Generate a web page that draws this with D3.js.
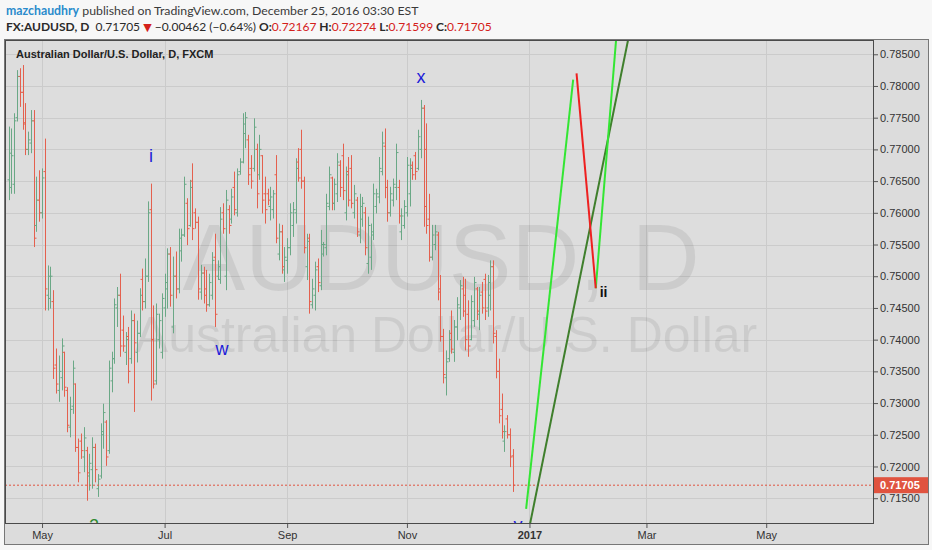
<!DOCTYPE html>
<html><head><meta charset="utf-8">
<script src="https://cdn.jsdelivr.net/npm/d3@7"></script>
<style>body{margin:0;background:#f7f7f7;} svg{display:block}</style>
</head><body><svg id="c" width="932" height="550"></svg>
<script>
// ---- data ----
const firstBar = -12; // trading-day index of first bar (0 = 2 May 2016)
const opens = [
.7652,.7640,.7645,.7750,.7815,.7790,.7740,.7700,.7710,.7745,
.7580,.7620,.7600,.7665,.7470,.7465,.7460,.7360,.7320,.7340,
.7380,.7320,.7262,.7295,.7330,.7230,.7240,.7215,.7225,.7185,
.7195,.7230,.7165,.7185,.7250,.7270,.7225,.7335,.7370,.7450,
.7470,.7415,.7380,.7405,.7370,.7430,.7380,.7410,.7495,.7460,
.7500,.7605,.7400,.7335,.7400,.7380,.7450,.7480,.7535,.7420,
.7500,.7480,.7540,.7565,.7615,.7580,.7650,.7600,.7585,.7475,
.7505,.7480,.7455,.7470,.7530,.7500,.7495,.7600,.7500,.7605,
.7590,.7640,.7600,.7665,.7680,.7725,.7715,.7670,.7670,.7700,
.7660,.7690,.7630,.7630,.7610,.7605,.7660,.7535,.7570,.7510,
.7525,.7545,.7580,.7600,.7680,.7700,.7650,.7515,.7560,.7455,
.7470,.7515,.7485,.7535,.7545,.7610,.7655,.7615,.7630,.7675,
.7690,.7600,.7665,.7670,.7600,.7620,.7565,.7590,.7600,.7520,
.7530,.7565,.7610,.7625,.7665,.7705,.7640,.7600,.7620,.7640,
.7640,.7570,.7580,.7600,.7630,.7675,.7690,.7670,.7700,.7765,
.7700,.7590,.7530,.7550,.7565,.7480,.7405,.7340,.7370,.7410,
.7380,.7420,.7450,.7480,.7470,.7440,.7400,.7430,.7480,.7440,
.7475,.7495,.7450,.7470,.7515,.7405,.7350,.7290,.7240,.7275,
.7250,.72167];
const highs = [
.7736,.7733,.7757,.7825,.7828,.7833,.7773,.7728,.7762,.7762,
.7657,.7667,.7670,.7717,.7517,.7515,.7478,.7386,.7375,.7402,
.7381,.7325,.7310,.7367,.7331,.7244,.7252,.7262,.7231,.7220,
.7246,.7236,.7188,.7268,.7299,.7273,.7367,.7381,.7465,.7483,
.7504,.7438,.7412,.7420,.7446,.7441,.7430,.7481,.7512,.7528,
.7618,.7646,.7454,.7457,.7441,.7473,.7504,.7544,.7546,.7531,
.7539,.7575,.7575,.7657,.7623,.7652,.7678,.7607,.7594,.7518,
.7515,.7510,.7504,.7538,.7567,.7525,.7609,.7615,.7636,.7612,
.7638,.7665,.7670,.7686,.7757,.7759,.7723,.7691,.7749,.7709,
.7723,.7691,.7657,.7638,.7641,.7636,.7691,.7583,.7581,.7546,
.7560,.7615,.7617,.7686,.7702,.7731,.7657,.7567,.7567,.7496,
.7523,.7528,.7573,.7554,.7630,.7673,.7657,.7654,.7694,.7683,
.7709,.7673,.7688,.7691,.7644,.7625,.7630,.7625,.7609,.7594,
.7583,.7646,.7638,.7688,.7728,.7733,.7652,.7641,.7654,.7709,
.7652,.7607,.7620,.7688,.7686,.7681,.7696,.7731,.7778,.7770,
.7741,.7630,.7581,.7581,.7570,.7502,.7417,.7383,.7415,.7446,
.7431,.7467,.7494,.7499,.7496,.7462,.7470,.7499,.7483,.7483,
.7491,.7504,.7502,.7525,.7525,.7415,.7370,.7315,.7265,.7281,
.7260,.72274];
const lows = [
.7620,.7630,.7630,.7744,.7767,.7731,.7691,.7691,.7694,.7546,
.7570,.7586,.7591,.7446,.7446,.7449,.7338,.7315,.7302,.7320,
.7310,.7254,.7246,.7283,.7223,.7175,.7212,.7191,.7146,.7162,
.7165,.7175,.7152,.7181,.7228,.7201,.7220,.7317,.7362,.7420,
.7373,.7381,.7360,.7331,.7362,.7286,.7364,.7404,.7446,.7449,
.7491,.7304,.7323,.7329,.7386,.7370,.7436,.7449,.7452,.7410,
.7465,.7473,.7523,.7562,.7549,.7578,.7557,.7575,.7463,.7463,
.7457,.7444,.7452,.7463,.7420,.7494,.7488,.7567,.7478,.7567,
.7583,.7596,.7594,.7660,.7678,.7702,.7644,.7638,.7665,.7607,
.7652,.7599,.7583,.7612,.7588,.7591,.7552,.7525,.7504,.7491,
.7504,.7533,.7562,.7583,.7649,.7638,.7536,.7494,.7441,.7449,
.7446,.7475,.7478,.7531,.7533,.7604,.7604,.7604,.7617,.7625,
.7620,.7588,.7610,.7607,.7591,.7562,.7552,.7578,.7533,.7504,
.7510,.7557,.7599,.7615,.7659,.7623,.7586,.7594,.7610,.7620,
.7583,.7557,.7575,.7594,.7610,.7652,.7652,.7667,.7686,.7578,
.7567,.7523,.7525,.7541,.7462,.7397,.7331,.7312,.7365,.7378,
.7365,.7399,.7431,.7436,.7383,.7373,.7399,.7420,.7431,.7415,
.7441,.7431,.7436,.7446,.7394,.7339,.7268,.7244,.7223,.7244,
.7199,.71599];
const closes = [
.7694,.7690,.7745,.7815,.7790,.7742,.7700,.7715,.7745,.7560,
.7620,.7600,.7655,.7480,.7500,.7500,.7355,.7330,.7350,.7390,
.7325,.7265,.7290,.7355,.7230,.7190,.7225,.7245,.7190,.7205,
.7230,.7195,.7180,.7255,.7285,.7215,.7355,.7370,.7455,.7470,
.7390,.7390,.7400,.7350,.7430,.7395,.7410,.7470,.7460,.7500,
.7600,.7400,.7330,.7440,.7430,.7465,.7490,.7535,.7470,.7500,
.7480,.7560,.7565,.7645,.7575,.7640,.7575,.7585,.7480,.7505,
.7470,.7455,.7490,.7525,.7440,.7515,.7590,.7575,.7620,.7580,
.7625,.7605,.7660,.7680,.7740,.7750,.7660,.7650,.7735,.7630,
.7700,.7620,.7605,.7620,.7625,.7630,.7560,.7570,.7515,.7530,
.7545,.7600,.7605,.7670,.7655,.7650,.7545,.7555,.7460,.7480,
.7510,.7490,.7550,.7550,.7615,.7660,.7615,.7645,.7680,.7640,
.7635,.7660,.7620,.7615,.7630,.7570,.7610,.7615,.7545,.7580,
.7570,.7630,.7630,.7670,.7710,.7640,.7600,.7630,.7645,.7695,
.7595,.7595,.7610,.7675,.7670,.7660,.7665,.7720,.7765,.7610,
.7580,.7530,.7565,.7570,.7475,.7405,.7345,.7365,.7400,.7385,
.7420,.7455,.7485,.7445,.7400,.7390,.7460,.7490,.7445,.7470,
.7450,.7445,.7490,.7515,.7410,.7350,.7280,.7255,.7255,.7250,
.7215,.71705];

const tickBars   = [0, 44, 88, 131, 175, 217, 260];
const tickLabels = ["May", "Jul", "Sep", "Nov", "2017", "Mar", "May"];
const priceTicks = [0.715,0.720,0.725,0.730,0.735,0.740,0.745,0.750,0.755,0.760,0.765,0.770,0.775,0.780,0.785];
const lastPrice = 0.71705;

// drawn projections [barIndex, price]
const greenLeg1 = [[173.8, 0.7133], [190.7, 0.7810]];
const redLeg    = [[191.9, 0.7820], [198.8, 0.7481]];
const greenLeg2 = [[198.8, 0.7481], [206.7, 0.7905]];
const trendLine = [[175.0, 0.7105], [211.9, 0.7905]];

const waveText  = ["i", "w", "x", "y", "2", "ii"];
const waveBar   = [39.1, 64.6, 136.1, 170.9, 18.7, 201.6];
const wavePrice = [0.7680, 0.7376, 0.7805, 0.7098, 0.7096, 0.7467];
const waveColor = ["#1c1cd8", "#1c1cd8", "#1c1cd8", "#1c1cd8", "#2f8a2f", "#111"];

// ---- layout ----
const svg = d3.select("#c");
const L = 5, R = 874, T = 40, B = 524;
const x = d3.scaleLinear().domain([-13.3, 298.7]).range([L, R]);
const y = d3.scaleLinear().domain([0.71093, 0.78725]).range([B, T]);

// header
const h1 = svg.append("text").attr("x", 6).attr("y", 15)
  .style("font-family", "Lato, 'Open Sans', sans-serif").style("font-size", "12.3px").attr("fill", "#3a3a3a");
h1.append("tspan").attr("fill", "#2a8bcc").attr("font-weight", "bold").text("mazchaudhry");
h1.append("tspan").text(" published on TradingView.com, December 25, 2016 03:30 EST");

const h2 = svg.append("text").attr("x", 6).attr("y", 31)
  .style("font-family", "Lato, 'Open Sans', sans-serif").style("font-size", "12px").attr("fill", "#2a2a2a");
h2.append("tspan").attr("font-weight", "bold").text("FX:AUDUSD, D");
h2.append("tspan").text("\u00a0 0.71705 ");
h2.append("tspan").attr("fill", "#d4201a").style("font-family", "'DejaVu Sans'").style("font-size", "11px").text("\u25BC");
h2.append("tspan").text(" \u22120.00462 (\u22120.64%) ");
const ohlcLab = ["O:", "H:", "L:", "C:"];
const ohlcVal = ["0.72167", "0.72274", "0.71599", "0.71705"];
ohlcLab.forEach((l, i) => {
  h2.append("tspan").attr("font-weight", "bold").text(" " + l);
  h2.append("tspan").attr("fill", "#d4201a").text(ohlcVal[i]);
});

// frame backgrounds
svg.append("rect").attr("x", 4).attr("y", 39).attr("width", 925).attr("height", 506).attr("fill", "#dcdcdc");
svg.append("rect").attr("x", L).attr("y", T).attr("width", R - L).attr("height", B - T).attr("fill", "#dddddd");

svg.append("defs").append("clipPath").attr("id", "pc")
  .append("rect").attr("x", L).attr("y", T).attr("width", R - L).attr("height", B - T);
const plot = svg.append("g").attr("clip-path", "url(#pc)");

// grid
plot.selectAll(".hg").data(priceTicks).join("line")
  .attr("x1", L).attr("x2", R).attr("y1", d => Math.round(y(d)) + 0.5).attr("y2", d => Math.round(y(d)) + 0.5)
  .attr("stroke", "#cbcbcb").attr("stroke-width", 1);
plot.selectAll(".vg").data(tickBars).join("line")
  .attr("y1", T).attr("y2", B).attr("x1", d => Math.round(x(d)) + 0.5).attr("x2", d => Math.round(x(d)) + 0.5)
  .attr("stroke", "#cbcbcb").attr("stroke-width", 1);

// watermark
plot.append("text").attr("x", 441).attr("y", 290).attr("text-anchor", "middle")
  .style("font-family", "'Liberation Sans', Arial, sans-serif").style("font-size", "94px")
  .attr("fill", "#000").attr("fill-opacity", 0.075).text("AUDUSD, D");
plot.append("text").attr("x", 446).attr("y", 352).attr("text-anchor", "middle")
  .style("font-family", "'Liberation Sans', Arial, sans-serif").style("font-size", "50px")
  .attr("fill", "#000").attr("fill-opacity", 0.075).text("Australian Dollar/U.S. Dollar");

// bars
const up = "#6aa886", dn = "#e4604e";
plot.append("g").selectAll("path").data(opens).join("path")
  .attr("d", (o, i) => {
    const cx = Math.round(x(firstBar + i)) + 0.5;
    return `M${cx},${y(highs[i])}V${y(lows[i])}M${cx - 2},${y(o)}H${cx}M${cx},${y(closes[i])}H${cx + 2}`;
  })
  .attr("fill", "none").attr("stroke-width", 1)
  .attr("stroke", (o, i) => closes[i] >= o ? up : dn);

// last price line
plot.append("line").attr("x1", L).attr("x2", R).attr("y1", y(lastPrice)).attr("y2", y(lastPrice))
  .attr("stroke", "#e0533f").attr("stroke-width", 1).attr("stroke-dasharray", "2,2");

// projection lines
const lineGen = d3.line().x(d => x(d[0])).y(d => y(d[1]));
[[trendLine, "#3f7f2c"], [greenLeg1, "#33e633"], [greenLeg2, "#33e633"], [redLeg, "#ee2020"]].forEach(([pts, col]) => {
  plot.append("path").attr("d", lineGen(pts)).attr("fill", "none").attr("stroke", col).attr("stroke-width", 2);
});

// wave labels
plot.selectAll(".wl").data(waveText).join("text")
  .attr("x", (d, i) => x(waveBar[i])).attr("y", (d, i) => y(wavePrice[i]))
  .attr("text-anchor", "middle")
  .style("font-family", "'Liberation Sans', Arial, sans-serif")
  .style("font-size", d => d === "ii" ? "14px" : "18px")
  .attr("font-weight", d => d === "ii" ? "bold" : "normal")
  .attr("fill", (d, i) => waveColor[i]).text(d => d);

// chart title inside pane
svg.append("text").attr("x", 16).attr("y", 58)
  .style("font-family", "'Liberation Sans', Arial, sans-serif").style("font-size", "11px")
  .attr("font-weight", "bold").attr("fill", "#222").text("Australian Dollar/U.S. Dollar, D, FXCM");

// axes
const yAxis = svg.append("g").attr("transform", `translate(${R},0)`)
  .call(d3.axisRight(y).tickValues(priceTicks).tickFormat(d3.format(".5f")).tickSize(4).tickPadding(2));
yAxis.select(".domain").remove();
yAxis.selectAll("text").style("font-family", "'Liberation Sans', Arial, sans-serif").style("font-size", "11px").attr("fill", "#333");
yAxis.selectAll("line").attr("stroke", "#555");

const xAxis = svg.append("g").attr("transform", `translate(0,${B})`)
  .call(d3.axisBottom(x).tickValues(tickBars).tickFormat((d, i) => tickLabels[i]).tickSize(4).tickPadding(3));
xAxis.select(".domain").remove();
xAxis.selectAll("text").style("font-family", "'Liberation Sans', Arial, sans-serif").style("font-size", "11px")
  .attr("fill", "#333").attr("font-weight", (d, i) => tickLabels[i] === "2017" ? "bold" : "normal");
xAxis.selectAll("line").attr("stroke", "#555");

// last price tag
const py = y(lastPrice);
svg.append("rect").attr("x", R).attr("y", py - 8).attr("width", 54).attr("height", 16).attr("fill", "#e0533f");
svg.append("text").attr("x", R + 6).attr("y", py + 4)
  .style("font-family", "'Liberation Sans', Arial, sans-serif").style("font-size", "11px").attr("font-weight", "bold")
  .attr("fill", "#fff").text(d3.format(".5f")(lastPrice));

// borders
svg.append("rect").attr("x", L + 0.5).attr("y", T + 0.5).attr("width", R - L - 1).attr("height", B - T - 1)
  .attr("fill", "none").attr("stroke", "#4a4a4a").attr("stroke-width", 1);
svg.append("rect").attr("x", 4.5).attr("y", 39.5).attr("width", 924).attr("height", 505)
  .attr("fill", "none").attr("stroke", "#777").attr("stroke-width", 1);
</script></body></html>
